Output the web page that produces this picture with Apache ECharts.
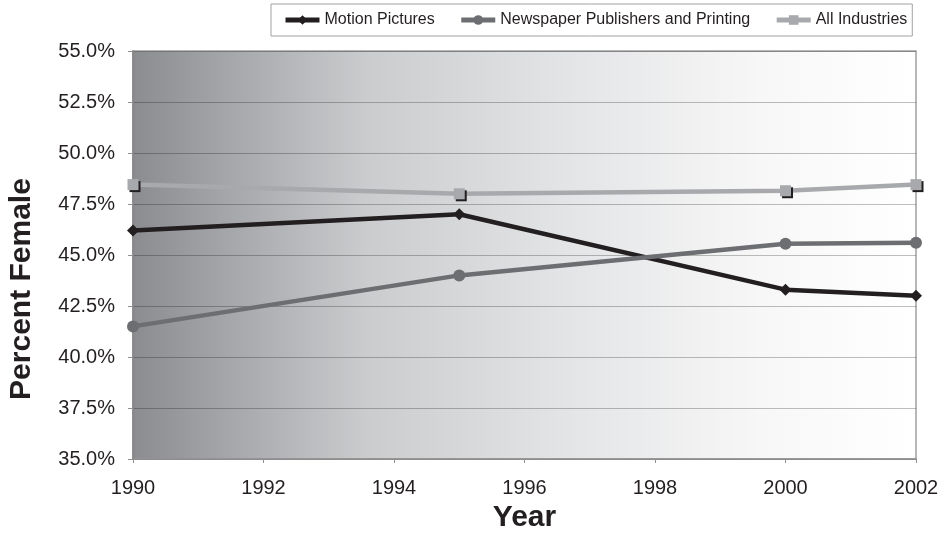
<!DOCTYPE html>
<html>
<head>
<meta charset="utf-8">
<script src="https://cdn.jsdelivr.net/npm/echarts@6/dist/echarts.min.js"></script>
<style>
html,body{margin:0;padding:0;background:#fff;}
#chart{width:942px;height:543px;}
</style>
</head>
<body>
<div id="chart"></div>
<script>
const years = [1990, 1995, 2000, 2002];
const motionPictures = [46.2, 47.0, 43.3, 43.0];
const newspaper = [41.5, 44.0, 45.55, 45.6];
const allIndustries = [48.45, 48.0, 48.15, 48.45];
const seriesNames = ['Motion Pictures', 'Newspaper Publishers and Printing', 'All Industries'];

const pairs = vals => years.map((y, i) => [y, vals[i]]);
const chart = echarts.init(document.getElementById('chart'));
const txt = '#231f20';
chart.setOption({
  animation: false,
  textStyle: { fontFamily: 'Arial, "Liberation Sans", sans-serif' },
  legend: {
    left: 271, top: 4,
    padding: [8, 5, 8, 12],
    itemGap: 24,
    itemWidth: 34, itemHeight: 12,
    borderColor: '#a0a0a0', borderWidth: 1,
    lineStyle: { width: 5 },
    textStyle: { fontSize: 16, color: txt, fontFamily: 'Arial, "Liberation Sans", sans-serif' },
    data: seriesNames
  },
  grid: {
    left: 133, right: 26, top: 51, bottom: 84,
    outerBoundsMode: 'none',
    containLabel: false,
    show: true,
    borderColor: '#a0a0a0', borderWidth: 1.5,
    backgroundColor: {
      type: 'linear', x: 0, y: 0, x2: 1, y2: 0,
      colorStops: [
        { offset: 0, color: '#8b8c90' },
        { offset: 0.3, color: '#cbccce' },
        { offset: 0.55, color: '#e3e4e6' },
        { offset: 0.8, color: '#f7f7f7' },
        { offset: 1, color: '#ffffff' }
      ]
    }
  },
  xAxis: {
    type: 'value', min: 1990, max: 2002, interval: 2,
    name: 'Year', nameLocation: 'middle', nameGap: 42,
    nameTextStyle: { fontSize: 30, fontWeight: 'bold', color: txt },
    axisLine: { show: true, lineStyle: { color: '#909090', width: 1.5 } },
    axisTick: { show: true, length: 4, lineStyle: { color: '#909090' } },
    axisLabel: { fontSize: 20, color: txt, margin: 19, formatter: v => String(v) },
    splitLine: { show: false }
  },
  yAxis: {
    type: 'value', min: 35, max: 55, interval: 2.5,
    axisLine: { show: true, lineStyle: { color: '#808080', width: 1.5 } },
    axisTick: { show: true, length: 5, lineStyle: { color: '#909090' } },
    axisLabel: { fontSize: 20, color: txt, margin: 18, formatter: v => v.toFixed(1) + '%' },
    splitLine: { show: true, lineStyle: { color: 'rgba(0,0,0,0.25)', width: 1 } }
  },
  graphic: [{
    type: 'text',
    x: 22, y: 289, rotation: Math.PI / 2,
    style: {
      text: 'Percent Female',
      font: 'bold 30px Arial, "Liberation Sans", sans-serif',
      fill: txt, align: 'center', verticalAlign: 'middle'
    }
  }],
  series: [
    {
      name: seriesNames[0], type: 'line', data: pairs(motionPictures),
      symbol: 'diamond', symbolSize: 12,
      lineStyle: { color: '#231f20', width: 4.5 },
      itemStyle: { color: '#231f20' }
    },
    {
      name: seriesNames[1], type: 'line', data: pairs(newspaper),
      symbol: 'circle', symbolSize: 12,
      lineStyle: { color: '#6d6e71', width: 4.5 },
      itemStyle: { color: '#6d6e71' }
    },
    {
      name: seriesNames[2], type: 'line', data: pairs(allIndustries),
      symbol: 'rect', symbolSize: 11,
      lineStyle: { color: '#a7a9ac', width: 4.5 },
      itemStyle: { color: '#a7a9ac', shadowColor: '#231f20', shadowOffsetX: 2, shadowOffsetY: 2, shadowBlur: 0 }
    }
  ]
});
</script>
</body>
</html>
